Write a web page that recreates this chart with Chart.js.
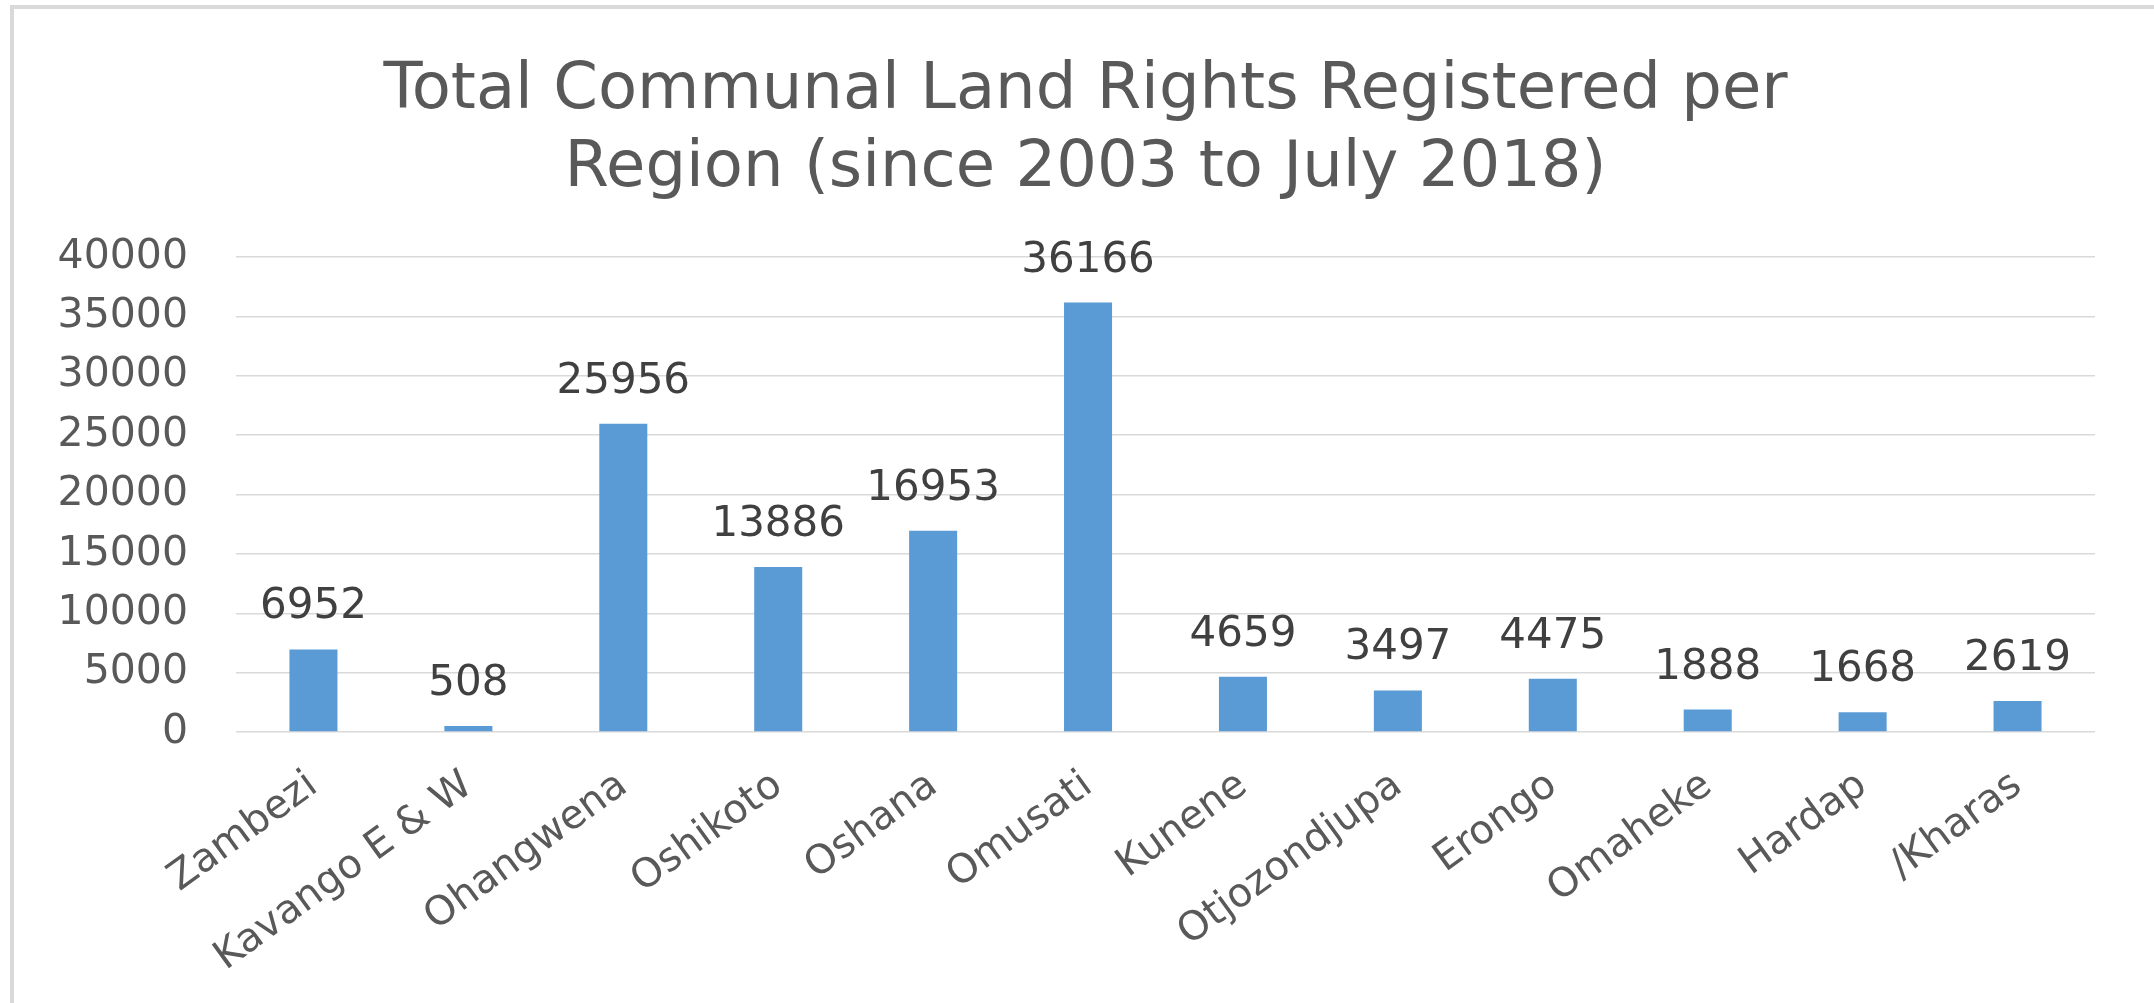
<!DOCTYPE html>
<html>
<head>
<meta charset="utf-8">
<title>Total Communal Land Rights Registered per Region</title>
<script src="https://cdn.jsdelivr.net/npm/chart.js@4.4.0/dist/chart.umd.min.js"></script>
<style>
  html, body { margin: 0; padding: 0; background: #fff; }
  #wrap { width: 2154px; height: 1003px; }
</style>
</head>
<body>
<div id="wrap"><canvas id="landChart" width="2154" height="1003"></canvas></div>
<script>
// values
const regions = ['Zambezi', 'Kavango E & W', 'Ohangwena', 'Oshikoto', 'Oshana', 'Omusati',
  'Kunene', 'Otjozondjupa', 'Erongo', 'Omaheke', 'Hardap', '/Kharas'];
const rightsRegistered = [6952, 508, 25956, 13886, 16953, 36166, 4659, 3497, 4475, 1888, 1668, 2619];
const yTicks = [0, 5000, 10000, 15000, 20000, 25000, 30000, 35000, 40000];
const titleLines = ['Total Communal Land Rights Registered per', 'Region (since 2003 to July 2018)'];

const FONT = '"DejaVu Sans", sans-serif';

// grey frame round the chart (only top and left show in the picture)
const frame = {
  id: 'frame',
  beforeDraw(chart) {
    const { ctx, width, height } = chart;
    ctx.save();
    ctx.fillStyle = '#fff';
    ctx.fillRect(0, 0, width, height);
    ctx.strokeStyle = '#d9d9d9';
    ctx.lineWidth = 4;
    ctx.beginPath();
    ctx.moveTo(12, height);
    ctx.lineTo(12, 7);
    ctx.lineTo(width, 7);
    ctx.stroke();
    ctx.restore();
  }
};

// title sits a little right of the plot centre in the original
const titleShift = {
  id: 'titleShift',
  afterLayout(chart) {
    const t = chart.titleBlock;
    if (t) { t.left += 38; t.right += 38; }
  }
};

// value above each bar
const valueLabels = {
  id: 'valueLabels',
  afterDatasetsDraw(chart) {
    const { ctx } = chart;
    const ds = chart.data.datasets[0];
    ctx.save();
    ctx.font = '42px ' + FONT;
    ctx.fillStyle = '#404040';
    ctx.textAlign = 'center';
    ctx.textBaseline = 'alphabetic';
    chart.getDatasetMeta(0).data.forEach((bar, i) => {
      ctx.fillText(String(ds.data[i]), bar.x, bar.y - 31);
    });
    ctx.restore();
  }
};

new Chart(document.getElementById('landChart'), {
  type: 'bar',
  data: {
    labels: regions,
    datasets: [{
      data: rightsRegistered,
      backgroundColor: '#5b9bd5',
      categoryPercentage: 0.31,
      barPercentage: 1
    }]
  },
  options: {
    responsive: false,
    animation: false,
    layout: { padding: { left: 0, right: 59, top: 0, bottom: 0 } },
    plugins: {
      legend: { display: false },
      tooltip: { enabled: false },
      title: {
        display: true,
        text: titleLines,
        color: '#595959',
        font: { family: FONT, size: 64, weight: 'normal', lineHeight: 78 / 64 },
        padding: { top: 52, bottom: 49 }
      }
    },
    scales: {
      x: {
        grid: { display: false, drawTicks: false },
        border: { display: false },
        ticks: {
          color: '#595959',
          font: { family: FONT, size: 40 },
          minRotation: 36,
          maxRotation: 36,
          autoSkip: false,
          padding: 30
        },
        afterFit: s => { s.height = 271; }
      },
      y: {
        min: yTicks[0],
        max: yTicks[yTicks.length - 1],
        ticks: {
          stepSize: yTicks[1] - yTicks[0],
          color: '#595959',
          font: { family: FONT, size: 41 },
          padding: 48,
          callback: v => String(v)
        },
        grid: { color: '#d9d9d9', lineWidth: 1.5, drawTicks: false },
        border: { display: false },
        afterFit: s => { s.width = 236; }
      }
    }
  },
  plugins: [frame, titleShift, valueLabels]
});
</script>
</body>
</html>
